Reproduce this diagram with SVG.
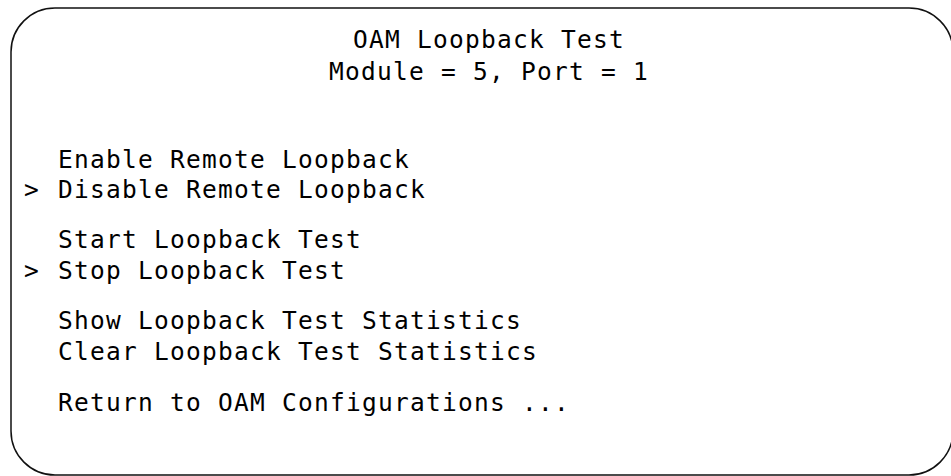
<svg xmlns="http://www.w3.org/2000/svg" width="951" height="476" viewBox="0 0 951 476">
<style>
.frame{fill:#fff;stroke:#111;stroke-width:1.5}
text{font-family:"DejaVu Sans Mono","Liberation Mono",monospace;font-size:24.5px;letter-spacing:1.25px;fill:#000}
.c{text-anchor:middle}
</style>
<rect width="951" height="476" fill="#fff"/>
<g id="screen">
<rect class="frame" x="11" y="8" width="942" height="467" rx="44" ry="44"/>
</g>
<g id="title">
<text class="c" x="489" y="48">OAM Loopback Test</text>
<text class="c" x="489" y="80">Module = 5, Port = 1</text>
</g>
<g id="menu">
<text x="58" y="168">Enable Remote Loopback</text>
<text x="24" y="198">&gt;</text>
<text x="58" y="198">Disable Remote Loopback</text>
<text x="58" y="248">Start Loopback Test</text>
<text x="24" y="279">&gt;</text>
<text x="58" y="279">Stop Loopback Test</text>
<text x="58" y="329">Show Loopback Test Statistics</text>
<text x="58" y="360">Clear Loopback Test Statistics</text>
<text x="58" y="411">Return to OAM Configurations ...</text>
</g>
</svg>
